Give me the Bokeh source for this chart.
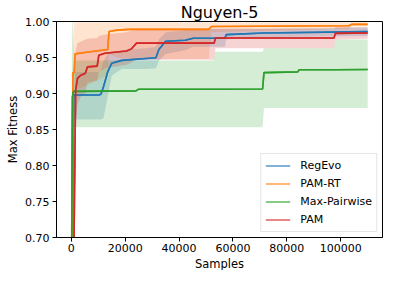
from bokeh.plotting import figure
from bokeh.models import Range1d, FixedTicker, Legend, LegendItem, NumeralTickFormatter, ColumnDataSource, Title
from bokeh.embed import file_html
from bokeh.resources import INLINE

# ---------------- data ----------------
reg_x = [0, 500, 900, 10200, 11000, 12000, 13500, 15000, 18700, 27800, 31400, 32500, 35000, 42300, 45200, 57000, 57500, 71400, 110000]
reg_y = [0.55, 0.75, 0.898, 0.898, 0.899, 0.910, 0.930, 0.942, 0.946, 0.9486, 0.9496, 0.961, 0.9726, 0.974, 0.9768, 0.9768, 0.9818, 0.984, 0.986]
reg_lo = [0.45, 0.60, 0.864, 0.864, 0.864, 0.866, 0.896, 0.925, 0.934, 0.934, 0.935, 0.945, 0.955, 0.960, 0.965, 0.965, 0.975, 0.978, 0.980]
reg_hi = [0.65, 0.85, 0.930, 0.930, 0.932, 0.945, 0.955, 0.958, 0.960, 0.963, 0.965, 0.975, 0.985, 0.988, 0.990, 0.990, 0.990, 0.990, 0.992]

rt_x = [0, 300, 600, 1100, 1400, 5000, 13500, 14000, 17000, 21500, 51000, 52000, 103000, 104000, 110000]
rt_y = [0.55, 0.70, 0.929, 0.929, 0.955, 0.957, 0.961, 0.986, 0.988, 0.989, 0.989, 0.993, 0.994, 0.996, 0.996]
rt_lo = [0.45, 0.55, 0.88, 0.89, 0.905, 0.91, 0.925, 0.955, 0.950, 0.948, 0.948, 0.985, 0.990, 0.993, 0.993]
rt_hi = [0.65, 0.80, 0.95, 0.999, 0.999, 0.999, 0.999, 0.999, 0.999, 0.999, 0.999, 0.999, 0.999, 0.999, 0.999]

mp_x = [0, 200, 400, 700, 900, 1500, 24000, 25000, 52900, 53300, 71000, 71500, 84000, 84600, 97500, 98000, 110000]
mp_y = [0.55, 0.75, 0.895, 0.902, 0.903, 0.903, 0.9036, 0.906, 0.906, 0.906, 0.9063, 0.929, 0.930, 0.933, 0.933, 0.933, 0.9334]
mp_lo = [0.45, 0.55, 0.75, 0.853, 0.853, 0.853, 0.853, 0.853, 0.853, 0.853, 0.853, 0.880, 0.880, 0.880, 0.880, 0.880, 0.880]
mp_hi = [0.65, 0.95, 1.0, 1.0, 0.95, 0.946, 0.946, 0.946, 0.946, 0.958, 0.958, 0.963, 0.963, 0.963, 0.963, 0.975, 0.975]

pam_x = [0, 800, 1600, 2300, 3400, 5200, 6000, 9600, 10200, 12500, 20500, 22300, 23000, 24200, 53000, 53500, 97500, 98000, 110000]
pam_y = [0.55, 0.62, 0.905, 0.921, 0.925, 0.928, 0.937, 0.938, 0.953, 0.956, 0.959, 0.962, 0.965, 0.970, 0.970, 0.977, 0.977, 0.9835, 0.984]
pam_lo = [0.45, 0.50, 0.86, 0.885, 0.895, 0.90, 0.915, 0.918, 0.93, 0.935, 0.94, 0.943, 0.945, 0.947, 0.947, 0.963, 0.963, 0.975, 0.976]
pam_hi = [0.65, 0.75, 0.96, 0.97, 0.972, 0.975, 0.976, 0.977, 0.98, 0.982, 0.985, 0.987, 0.988, 0.99, 0.99, 0.99, 0.99, 0.992, 0.992]

names = ["RegEvo", "PAM-RT", "Max-Pairwise", "PAM"]
colors = ["#1f77b4", "#ff7f0e", "#2ca02c", "#d62728"]
series = [(reg_x, reg_y, reg_lo, reg_hi), (rt_x, rt_y, rt_lo, rt_hi),
          (mp_x, mp_y, mp_lo, mp_hi), (pam_x, pam_y, pam_lo, pam_hi)]

x_ticks = [0, 20000, 40000, 60000, 80000, 100000]
y_ticks = [0.70, 0.75, 0.80, 0.85, 0.90, 0.95, 1.00]

FONT = "DejaVu Sans"

p = figure(width=383, height=270, output_backend="svg", toolbar_location=None,
           x_range=Range1d(-5500, 115500), y_range=Range1d(0.70, 1.00),
           min_border_left=50, min_border_right=1, min_border_top=17, min_border_bottom=30,
           title="Nguyen-5")
p.title.text_font = FONT
p.title.text_font_size = "16px"
p.title.text_font_style = "normal"
p.title.text_color = "black"
p.title.align = "center"
p.title.offset = 0
p.title.standoff = 0

p.xgrid.visible = False
p.ygrid.visible = False
p.outline_line_color = "black"
p.outline_line_width = 1
p.background_fill_color = "white"
p.border_fill_color = "white"

for ax in (p.xaxis[0], p.yaxis[0]):
    ax.major_label_text_font = FONT
    ax.major_label_text_font_size = "11px"
    ax.major_label_text_color = "black"
    ax.axis_line_color = "black"
    ax.major_tick_line_color = "black"
    ax.major_tick_out = 4
    ax.major_tick_in = 0
    ax.minor_tick_line_color = None
    ax.major_label_standoff = 3

p.xaxis.major_label_standoff = 2
p.xaxis.ticker = FixedTicker(ticks=x_ticks)
p.yaxis.ticker = FixedTicker(ticks=y_ticks)
p.xaxis.formatter = NumeralTickFormatter(format="0")
p.yaxis.formatter = NumeralTickFormatter(format="0.00")

# axis titles as extra title panels (outside the axis panels)
x_title = Title(text="Samples", align="center", text_font=FONT, text_font_size="11.5px",
                text_font_style="normal", text_color="black", standoff=0, offset=0)
y_title = Title(text="Max Fitness", align="center", text_font=FONT, text_font_size="11.5px",
                text_font_style="normal", text_color="black", standoff=6, offset=0)
p.add_layout(x_title, "below")
p.add_layout(y_title, "left")

sources = []
for col, (xs, ys, lo, hi) in zip(colors, series):
    src = ColumnDataSource(dict(x=xs, y=ys, lo=lo, hi=hi))
    sources.append(src)
    p.varea(x="x", y1="lo", y2="hi", source=src, fill_color=col, fill_alpha=0.2)

legend_items = []
for name, col, src in zip(names, colors, sources):
    handle = p.line(x="x", y="y", source=src, line_color=col, line_width=1.6, line_alpha=0.75)
    p.line(x="x", y="y", source=src, line_color=col, line_width=1.6)
    legend_items.append(LegendItem(label=name, renderers=[handle]))

legend = Legend(items=legend_items, location="bottom_right")
legend.label_text_font = FONT
legend.label_text_font_size = "11px"
legend.label_text_color = "black"
legend.glyph_width = 25
legend.glyph_height = 15
legend.label_height = 15
legend.label_standoff = 10
legend.spacing = 3
legend.padding = 4
legend.margin = 5
legend.border_line_color = "#cccccc"
legend.border_line_width = 1
legend.background_fill_alpha = 0.8
p.add_layout(legend)

open("out.html", "w").write(file_html(p, INLINE))
